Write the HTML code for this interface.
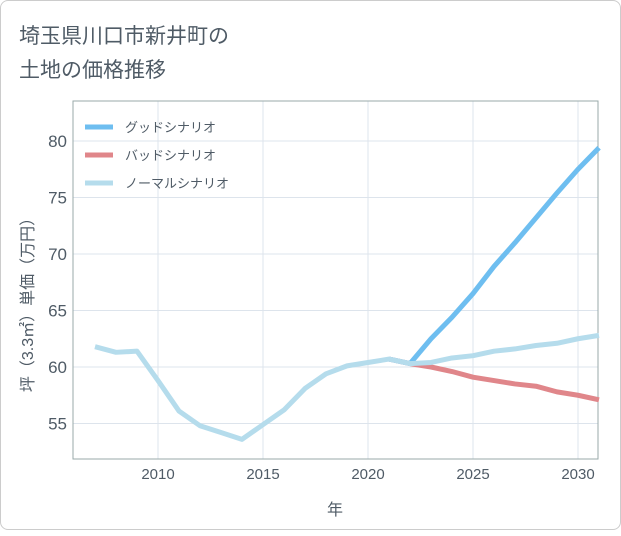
<!DOCTYPE html>
<html><head><meta charset="utf-8"><style>
body{margin:0;background:#fff;font-family:"Liberation Sans","Noto Sans CJK JP",sans-serif;}
#card{position:absolute;left:0;top:0;width:619px;height:528px;border:1px solid #ccc;border-radius:8px;background:#fff;}
</style></head><body>
<div id="card">
<svg width="621" height="530" id="svg">
<text x="18" y="42" font-size="21" fill="#4f5b66">埼玉県川口市新井町の</text>
<text x="18" y="76" font-size="21" fill="#4f5b66">土地の価格推移</text>
<g id="plot"></g>
</svg></div>
<script>
const years=[2007,2008,2009,2010,2011,2012,2013,2014,2015,2016,2017,2018,2019,2020,2021,2022,2023,2024,2025,2026,2027,2028,2029,2030,2031];
const normal=[61.8,61.3,61.4,58.8,56.1,54.8,54.2,53.6,54.9,56.2,58.1,59.4,60.1,60.4,60.7,60.3,60.4,60.8,61.0,61.4,61.6,61.9,62.1,62.5,62.8];
const goodYears=[2021,2022,2023,2024,2025,2026,2027,2028,2029,2030,2031];
const good=[60.7,60.3,62.5,64.4,66.5,68.9,71.0,73.2,75.4,77.5,79.4];
const bad=[60.7,60.3,60.0,59.6,59.1,58.8,58.5,58.3,57.8,57.5,57.1];
const xTicks=[2010,2015,2020,2025,2030];
const yTicks=[55,60,65,70,75,80];
const L=72,R=597,T=100,B=458;
const x=v=>157+(v-2010)*21;
const y=v=>366-(v-60)*11.3;
const NS="http://www.w3.org/2000/svg";
const g=document.getElementById('plot');
function mk(t,a){const e=document.createElementNS(NS,t);for(const k in a)e.setAttribute(k,a[k]);g.appendChild(e);return e;}
xTicks.forEach(v=>{const l=mk('line',{x1:x(v),x2:x(v),y1:T,y2:B,stroke:'#dde4ec'});


const t=mk('text',{x:x(v),y:478,'text-anchor':'middle','font-size':15,fill:'#4f5b66'});t.textContent=v;

});
yTicks.forEach(v=>{const l=mk('line',{x1:L,x2:R,y1:y(v),y2:y(v),stroke:'#dde4ec'});


const t=mk('text',{x:66,y:y(v)+6,'text-anchor':'end','font-size':17,fill:'#4f5b66'});t.textContent=v;

});
const fr=mk('rect',{x:L,y:T,width:R-L,height:B-T,fill:'none',stroke:'#9aa'});


function line(xs,ys,c,n){const p=mk('polyline',{points:xs.map((v,i)=>x(v)+','+y(ys[i])).join(' '),fill:'none',stroke:c,'stroke-width':5,'stroke-linejoin':'round'});

}
line(goodYears,bad,'#e0868a','bad-scenario-line');
line(goodYears,good,'#6ebef0','good-scenario-line');
line(years,normal,'#b5dcec','normal-scenario-line');
const leg=[['グッドシナリオ','#6ebef0'],['バッドシナリオ','#e0868a'],['ノーマルシナリオ','#b5dcec']];
leg.forEach((d,i)=>{const yy=126+i*28;
const l=mk('line',{x1:84,x2:112,y1:yy,y2:yy,stroke:d[1],'stroke-width':5});


const t=mk('text',{x:124,y:yy+5,'font-size':13,fill:'#4f5b66'});t.textContent=d[0];

});
const xt=mk('text',{x:334,y:514,'text-anchor':'middle','font-size':16,fill:'#4f5b66'});xt.textContent='年';


const yt=mk('text',{x:0,y:0,'text-anchor':'middle','font-size':16,fill:'#4f5b66',transform:'translate(32,300) rotate(-90)'});yt.textContent='坪（3.3㎡）単価（万円）';


</script></body></html>
